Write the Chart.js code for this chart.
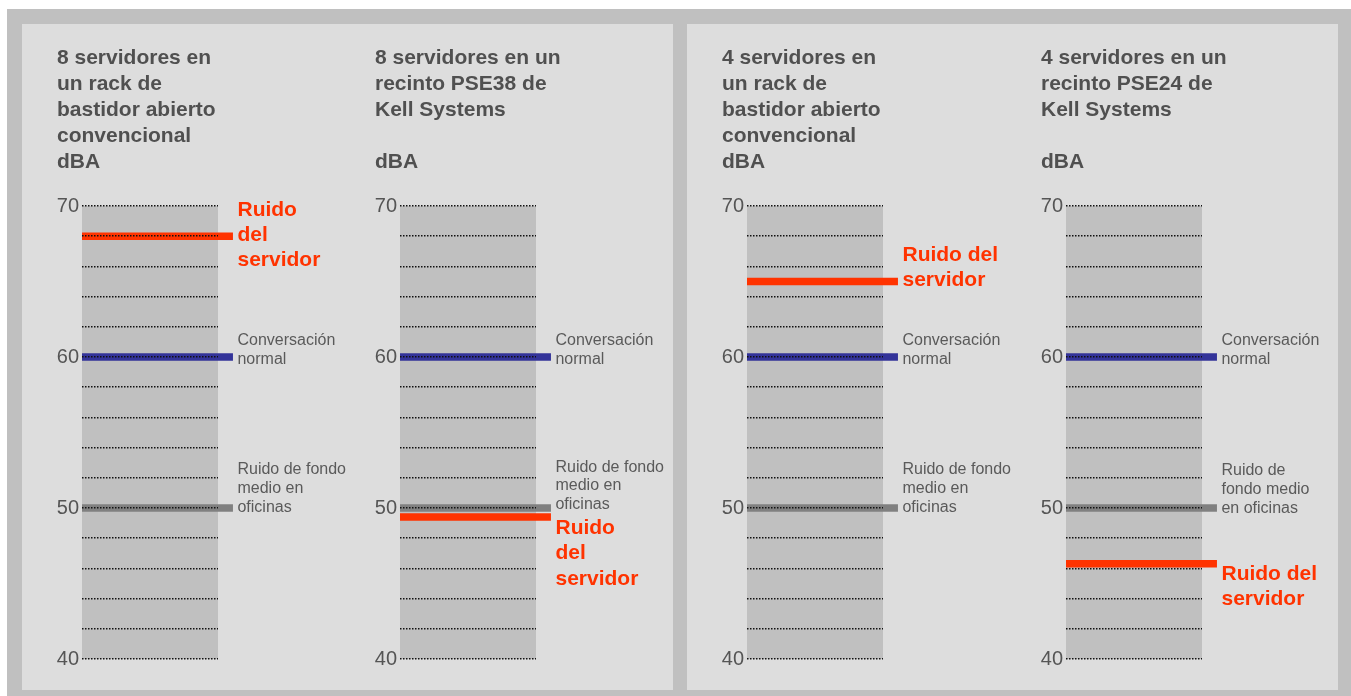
<!DOCTYPE html>
<html>
<head>
<meta charset="utf-8">
<script src="https://cdn.jsdelivr.net/npm/chart.js@4/dist/chart.umd.min.js"></script>
<style>
  html, body { margin: 0; padding: 0; background: #ffffff; width: 1351px; height: 696px; overflow: hidden; }
  .frame { position: absolute; left: 7px; top: 9px; width: 1344px; height: 687px; background: #c0c0c0; }
  .panel { position: absolute; top: 24px; width: 651px; height: 666px; background: #dddddd; }
  canvas { position: absolute; top: 24px; }
</style>
</head>
<body>
<div class="frame"></div>
<div class="panel" style="left:22px"></div>
<div class="panel" style="left:687px"></div>
<canvas id="c0" width="300" height="666" style="left:57px"></canvas>
<canvas id="c1" width="300" height="666" style="left:375px"></canvas>
<canvas id="c2" width="300" height="666" style="left:722px"></canvas>
<canvas id="c3" width="297" height="666" style="left:1041px"></canvas>
<script>
// ---- data ----
const titles = [
  ['8 servidores en', 'un rack de', 'bastidor abierto', 'convencional'],
  ['8 servidores en un', 'recinto PSE38 de', 'Kell Systems'],
  ['4 servidores en', 'un rack de', 'bastidor abierto', 'convencional'],
  ['4 servidores en un', 'recinto PSE24 de', 'Kell Systems']
];
const unitLabel = 'dBA';
const serverNoise = [68, 49.4, 65, 46.3];
const conversation = [60, 60, 60, 60];
const officeNoise = [50, 50, 50, 50];
const yMin = 40, yMax = 70, yStep = 2;
const yTickLabels = [40, 50, 60, 70];
const serverLabels = [
  ['Ruido', 'del', 'servidor'],
  ['Ruido', 'del', 'servidor'],
  ['Ruido del', 'servidor'],
  ['Ruido del', 'servidor']
];
const conversationLabels = [
  ['Conversación', 'normal'], ['Conversación', 'normal'], ['Conversación', 'normal'], ['Conversación', 'normal']
];
const officeLabels = [
  ['Ruido de fondo', 'medio en', 'oficinas'],
  ['Ruido de fondo', 'medio en', 'oficinas'],
  ['Ruido de fondo', 'medio en', 'oficinas'],
  ['Ruido de', 'fondo medio', 'en oficinas']
];

// ---- style ----
const FONT = "'Liberation Sans', Arial, Helvetica, sans-serif";
const RED = '#ff3300', BLUE = '#333399', GREY = '#808080';
const TEXT = '#505050', LABEL = '#5a5a5a';
const LINE_END = 1.11;            // reference lines extend past the plot area
const AXIS_W = 25, PLOT_W = 136;
// baseline offset (px) of first label line relative to its line
const serverOffset = [-20.5, 17, -21, 16];
const convOffset = [-12.3, -12.3, -12.3, -12.3];
const officeOffset = [-34.3, -36.5, -34.3, -33];
const officeSpacing = [19.3, 18.8, 19.3, 19];

const bgPlugin = {
  id: 'plotBg',
  beforeDraw(chart) {
    const a = chart.chartArea, ctx = chart.ctx;
    ctx.save();
    ctx.fillStyle = '#c0c0c0';
    ctx.fillRect(a.left, a.top, a.right - a.left, a.bottom - a.top);
    ctx.restore();
  }
};

const labelPlugin = {
  id: 'refLabels',
  afterDraw(chart, args, opts) {
    const ctx = chart.ctx;
    const xs = chart.scales.x, ys = chart.scales.y;
    const x = xs.getPixelForValue(LINE_END) + 4.5;
    ctx.save();
    ctx.textAlign = 'left';
    ctx.textBaseline = 'alphabetic';
    opts.items.forEach(it => {
      ctx.font = it.font;
      ctx.fillStyle = it.color;
      const y0 = ys.getPixelForValue(it.value) + it.offset;
      it.lines.forEach((t, i) => ctx.fillText(t, x, y0 + i * it.spacing));
    });
    ctx.restore();
  }
};

function refLine(v, color) {
  return {
    type: 'line',
    data: [{ x: 0, y: v }, { x: LINE_END, y: v }],
    borderColor: color,
    borderWidth: 7.5,
    borderCapStyle: 'butt',
    pointRadius: 0,
    pointHoverRadius: 0,
    clip: false,
    tension: 0
  };
}

for (let i = 0; i < 4; i++) {
  const canvas = document.getElementById('c' + i);
  const W = canvas.width;
  const titleLines = titles[i].slice();
  while (titleLines.length < 4) titleLines.push('');
  new Chart(canvas, {
    type: 'line',
    data: {
      datasets: [
        refLine(officeNoise[i], GREY),
        refLine(conversation[i], BLUE),
        refLine(serverNoise[i], RED)
      ]
    },
    options: {
      responsive: false,
      animation: false,
      events: [],
      layout: { padding: { left: 0, top: 0, right: 0, bottom: 31 } },
      plugins: {
        legend: { display: false },
        tooltip: { enabled: false },
        title: {
          display: true, align: 'start', text: titleLines, color: TEXT,
          font: { family: FONT, size: 21, weight: 'bold', lineHeight: 26 / 21 },
          padding: { top: 21.5, bottom: 0 }
        },
        subtitle: {
          display: true, align: 'start', text: unitLabel, color: TEXT,
          font: { family: FONT, size: 21, weight: 'bold', lineHeight: 26 / 21 },
          padding: { top: 0, bottom: 30.5 }
        },
        refLabels: {
          items: [
            { value: serverNoise[i], lines: serverLabels[i], offset: serverOffset[i], spacing: 25.3,
              font: 'bold 21px ' + FONT, color: RED },
            { value: conversation[i], lines: conversationLabels[i], offset: convOffset[i], spacing: 19.3,
              font: '16px ' + FONT, color: LABEL },
            { value: officeNoise[i], lines: officeLabels[i], offset: officeOffset[i], spacing: officeSpacing[i],
              font: '16px ' + FONT, color: LABEL }
          ]
        }
      },
      scales: {
        x: { type: 'linear', min: 0, max: 1, display: false },
        y: {
          type: 'linear', min: yMin, max: yMax,
          afterFit(scale) { scale.width = AXIS_W; },
          ticks: {
            stepSize: yStep, padding: 3, color: '#555555',
            font: { family: FONT, size: 20 },
            autoSkip: false,
            callback: v => yTickLabels.includes(v) ? String(v) : ''
          },
          grid: { color: '#111111', lineWidth: 1.5, drawTicks: false, z: 1 },
          border: { display: false, dash: [1.5, 1.5] }
        },
        yRight: {
          type: 'linear', position: 'right', min: yMin, max: yMax,
          afterFit(scale) { scale.width = W - AXIS_W - PLOT_W; },
          ticks: { display: false },
          grid: { display: false, drawTicks: false },
          border: { display: false }
        }
      }
    },
    plugins: [bgPlugin, labelPlugin]
  });
}
</script>
</body>
</html>
